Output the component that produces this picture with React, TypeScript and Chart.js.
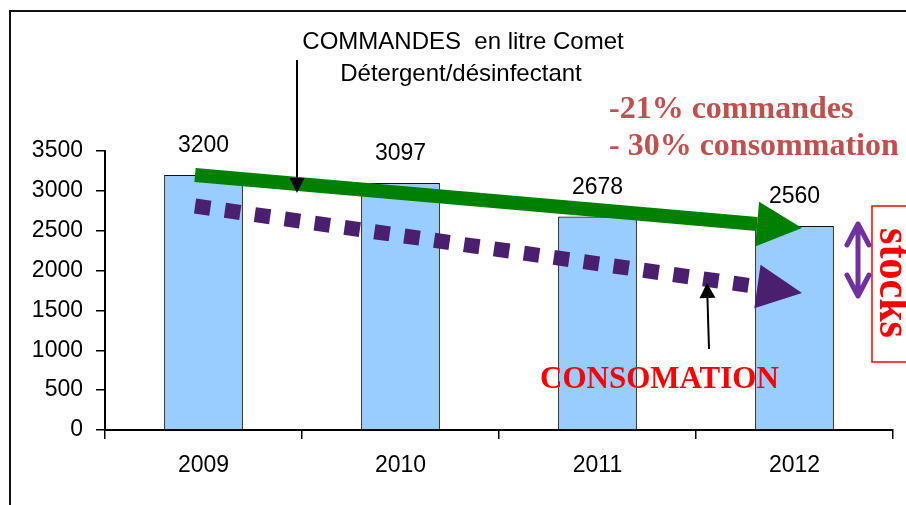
import React, { useEffect, useRef } from 'react';
import { Chart, registerables } from 'chart.js';

Chart.register(...registerables);

const categories = ['2009', '2010', '2011', '2012'];
const commandes = [3200, 3097, 2678, 2560];
const yTickValues = [0, 500, 1000, 1500, 2000, 2500, 3000, 3500];

// trend arrows, expressed in data units (category index, value)
const trendIndex = [-0.043, 3.038];
const commandesTrend = [3199, 2534];
const consommationTrend = [2810, 1719];

const titleLines = ['COMMANDES  en litre Comet', 'Détergent/désinfectant'];
const noteLines = ['-21% commandes', '- 30% consommation'];
const consoLabel = 'CONSOMATION';
const stocksLabel = 'stocks';

const SANS = '"Liberation Sans", Arial, sans-serif';
const SERIF = '"Liberation Serif", "Times New Roman", serif';

function arrow(
  ctx: CanvasRenderingContext2D,
  x1: number, y1: number, x2: number, y2: number,
  width: number, headLen: number, headHalf: number,
  color: string, dash: number[] = []
) {
  const a = Math.atan2(y2 - y1, x2 - x1);
  const c = Math.cos(a), s = Math.sin(a);
  const bx = x2 - headLen * c, by = y2 - headLen * s;
  ctx.save();
  ctx.strokeStyle = color;
  ctx.fillStyle = color;
  ctx.lineWidth = width;
  ctx.lineCap = 'butt';
  ctx.setLineDash(dash);
  ctx.beginPath();
  ctx.moveTo(x1, y1);
  ctx.lineTo(bx, by);
  ctx.stroke();
  ctx.setLineDash([]);
  ctx.beginPath();
  ctx.moveTo(x2, y2);
  ctx.lineTo(bx - headHalf * s, by + headHalf * c);
  ctx.lineTo(bx + headHalf * s, by - headHalf * c);
  ctx.closePath();
  ctx.fill();
  ctx.restore();
}

const overlay = {
  id: 'overlay',
  afterDatasetsDraw(chart: any) {
    const ctx: CanvasRenderingContext2D = chart.ctx;
    const xs = chart.scales.x;
    const ys = chart.scales.y;
    const meta = chart.getDatasetMeta(0);

    ctx.save();
    // frame
    ctx.fillStyle = '#111';
    ctx.fillRect(9, 10, 2, 495);
    ctx.fillRect(9, 10, 897, 2);

    // data labels
    ctx.font = `23px ${SANS}`;
    ctx.fillStyle = '#000';
    ctx.textAlign = 'center';
    ctx.textBaseline = 'middle';
    meta.data.forEach((bar: any, i: number) => {
      ctx.fillText(String(commandes[i]), bar.x, bar.y - 29);
    });

    // consommation trend (dashed purple)
    arrow(
      ctx,
      xs.getPixelForValue(trendIndex[0]), ys.getPixelForValue(consommationTrend[0]),
      xs.getPixelForValue(trendIndex[1]), ys.getPixelForValue(consommationTrend[1]),
      15, 45, 22, '#4B1F6F', [15.5, 14.7]
    );
    // commandes trend (green)
    arrow(
      ctx,
      xs.getPixelForValue(trendIndex[0]), ys.getPixelForValue(commandesTrend[0]),
      xs.getPixelForValue(trendIndex[1]), ys.getPixelForValue(commandesTrend[1]),
      14, 45, 22.5, '#008000'
    );

    // title
    ctx.font = `24px ${SANS}`;
    ctx.fillStyle = '#000';
    ctx.textAlign = 'center';
    ctx.textBaseline = 'alphabetic';
    ctx.fillText(titleLines[0], 463, 49);
    ctx.fillText(titleLines[1], 461, 81);

    // black pointer arrows
    arrow(ctx, 297, 60, 297, 193, 2, 15, 7.5, '#000');
    arrow(ctx, 709, 349, 707, 283, 2, 15, 8, '#000');

    // notes
    ctx.font = `bold 32px ${SERIF}`;
    ctx.fillStyle = '#C0504D';
    ctx.textAlign = 'left';
    ctx.fillText(noteLines[0], 609, 118);
    ctx.fillText(noteLines[1], 609, 155);

    // CONSOMATION
    ctx.font = `bold 31px ${SERIF}`;
    ctx.fillStyle = '#FF0000';
    ctx.fillText(consoLabel, 540, 388);

    // stocks box
    ctx.strokeStyle = '#FF0000';
    ctx.lineWidth = 1.5;
    ctx.strokeRect(872, 206, 80, 156);
    ctx.save();
    ctx.translate(880, 228);
    ctx.rotate(Math.PI / 2);
    ctx.font = `bold 47px ${SERIF}`;
    const w = ctx.measureText(stocksLabel).width;
    ctx.scale(110 / w, 1);
    ctx.fillStyle = '#FF0000';
    ctx.textBaseline = 'alphabetic';
    ctx.fillText(stocksLabel, 0, 0);
    ctx.restore();

    // double arrow
    ctx.strokeStyle = '#7030A0';
    ctx.lineWidth = 5;
    ctx.lineCap = 'round';
    ctx.lineJoin = 'round';
    ctx.beginPath();
    ctx.moveTo(858, 225);
    ctx.lineTo(858, 295);
    ctx.moveTo(847, 245);
    ctx.lineTo(858, 224);
    ctx.lineTo(869, 245);
    ctx.moveTo(847, 275);
    ctx.lineTo(858, 296);
    ctx.lineTo(869, 275);
    ctx.stroke();

    ctx.restore();
  },
};

export default function App() {
  const ref = useRef<HTMLCanvasElement | null>(null);
  useEffect(() => {
    if (!ref.current) return;
    const chart = new Chart(ref.current, {
      type: 'bar',
      data: {
        labels: categories,
        datasets: [
          {
            data: commandes,
            backgroundColor: '#99CCFF',
            borderColor: '#111',
            borderWidth: 1.2,
            barPercentage: 0.4,
            categoryPercentage: 1,
          },
        ],
      },
      options: {
        animation: false,
        responsive: false,
        layout: { padding: { top: 151, right: 13, left: 0, bottom: 0 } },
        plugins: { legend: { display: false }, tooltip: { enabled: false }, title: { display: false } },
        scales: {
          x: {
            afterFit: (s: any) => { s.height = 75; },
            grid: { drawOnChartArea: false, drawTicks: true, tickLength: 9, color: '#000', lineWidth: 1.5 },
            border: { color: '#000', width: 2 },
            ticks: { color: '#000', font: { family: SANS, size: 23 }, padding: 13 },
          },
          y: {
            min: 0,
            max: 3500,
            afterFit: (s: any) => { s.width = 105; },
            afterBuildTicks: (s: any) => { s.ticks = yTickValues.map((v) => ({ value: v })); },
            grid: { drawOnChartArea: false, drawTicks: true, tickLength: 9, color: '#000', lineWidth: 1.5 },
            border: { color: '#000', width: 2 },
            ticks: {
              color: '#000',
              font: { family: SANS, size: 23 },
              padding: 13,
              callback: (v: any) => String(v),
            },
          },
        },
      },
      plugins: [overlay],
    });
    return () => chart.destroy();
  }, []);
  return (
    <div style={{ position: 'absolute', left: 0, top: 0, width: 906, height: 505, background: '#fff' }}>
      <canvas ref={ref} width={906} height={505} style={{ display: 'block' }} />
    </div>
  );
}
